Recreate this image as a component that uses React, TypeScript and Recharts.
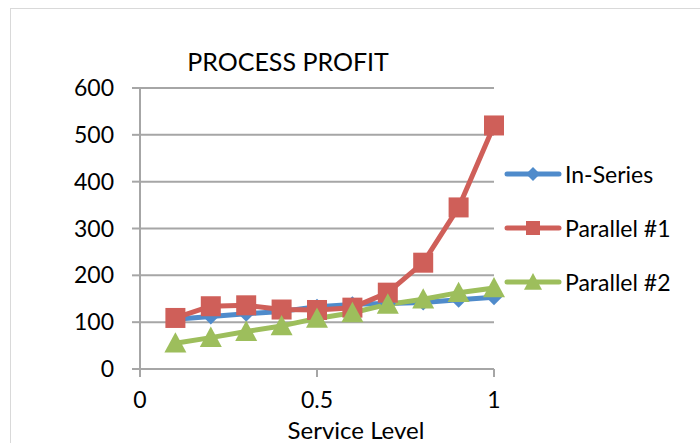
import React from 'react';
import { LineChart, Line, XAxis, YAxis, CartesianGrid } from 'recharts';

const serviceLevels = [0.1, 0.2, 0.3, 0.4, 0.5, 0.6, 0.7, 0.8, 0.9, 1.0];
const inSeries = [106, 112, 118, 123, 133, 138, 140, 142, 148, 153];
const parallel1 = [109, 134, 136, 127, 126, 131, 163, 227, 345, 520];
const parallel2 = [55, 67, 80, 92, 108, 120, 138, 149, 163, 173];
const xTicks = [0, 0.5, 1];
const yTicks = [0, 100, 200, 300, 400, 500, 600];

const data = serviceLevels.map((x, i) => ({
  x,
  inSeries: inSeries[i],
  parallel1: parallel1[i],
  parallel2: parallel2[i],
}));

const BLUE = '#4F8BCB';
const RED = '#CF5F59';
const GREEN = '#9DBE5C';
const GRID = '#A6A6A6';
const FONT = "Lato, 'Open Sans', sans-serif";

const Diamond = ({ cx, cy, r = 8, fill }: any) => (
  <polygon points={`${cx},${cy - r} ${cx + r},${cy} ${cx},${cy + r} ${cx - r},${cy}`} fill={fill} />
);
const Square = ({ cx, cy, r = 10, fill }: any) => (
  <rect x={cx - r} y={cy - r} width={r * 2} height={r * 2} fill={fill} />
);
const Triangle = ({ cx, cy, r = 11, fill }: any) => (
  <polygon points={`${cx},${cy - r} ${cx + r},${cy + r * 0.85} ${cx - r},${cy + r * 0.85}`} fill={fill} />
);

const legendItems = [
  { name: 'In-Series', color: BLUE, Marker: Diamond, r: 7 },
  { name: 'Parallel #1', color: RED, Marker: Square, r: 7 },
  { name: 'Parallel #2', color: GREEN, Marker: Triangle, r: 9 },
];

const App: React.FC = () => {
  return (
    <div style={{ position: 'absolute', left: 0, top: 0, width: 700, height: 443, background: '#fff', overflow: 'hidden' }}>
      <div style={{ position: 'absolute', left: 10, top: 8, width: 720, height: 460, border: '1px solid #D9D9D9' }} />
      <div
        style={{
          position: 'absolute',
          left: 140,
          width: 296,
          top: 46,
          textAlign: 'center',
          fontFamily: FONT,
          fontSize: 25,
          color: '#000',
        }}
      >
        PROCESS PROFIT
      </div>
      <LineChart
        width={700}
        height={443}
        data={data}
        margin={{ top: 88, right: 206, bottom: 0, left: 80 }}
        style={{ position: 'absolute', left: 0, top: 0, fontFamily: FONT }}
      >
        <CartesianGrid vertical={false} stroke={GRID} strokeWidth={2} />
        <XAxis
          dataKey="x"
          type="number"
          domain={[0, 1]}
          ticks={xTicks}
          height={74}
          stroke={GRID}
          strokeWidth={2}
          tickSize={8}
          tickMargin={15}
          tick={{ fill: '#000', fontSize: 23 }}
        />
        <YAxis
          type="number"
          domain={[0, 600]}
          ticks={yTicks}
          width={60}
          stroke={GRID}
          strokeWidth={2}
          tickSize={8}
          tickMargin={18}
          tick={{ fill: '#000', fontSize: 23 }}
        />
        <Line
          dataKey="inSeries"
          name="In-Series"
          stroke={BLUE}
          strokeWidth={5}
          strokeLinejoin="round"
          isAnimationActive={false}
          dot={(p: any) => <Diamond key={`d${p.index}`} cx={p.cx} cy={p.cy} r={8} fill={BLUE} />}
        />
        <Line
          dataKey="parallel1"
          name="Parallel #1"
          stroke={RED}
          strokeWidth={5}
          strokeLinejoin="round"
          isAnimationActive={false}
          dot={(p: any) => <Square key={`s${p.index}`} cx={p.cx} cy={p.cy} r={10} fill={RED} />}
        />
        <Line
          dataKey="parallel2"
          name="Parallel #2"
          stroke={GREEN}
          strokeWidth={5}
          strokeLinejoin="round"
          isAnimationActive={false}
          dot={(p: any) => <Triangle key={`t${p.index}`} cx={p.cx} cy={p.cy} r={11} fill={GREEN} />}
        />
      </LineChart>
      <div style={{ position: 'absolute', left: 504, top: 147, fontFamily: FONT, fontSize: 23, color: '#000' }}>
        {legendItems.map((it) => (
          <div key={it.name} style={{ display: 'flex', alignItems: 'center', height: 54 }}>
            <svg width={58} height={24}>
              <line x1={3} y1={12} x2={55} y2={12} stroke={it.color} strokeWidth={5} strokeLinecap="round" />
              <it.Marker cx={29} cy={12} r={it.r} fill={it.color} />
            </svg>
            <span style={{ marginLeft: 3, whiteSpace: 'nowrap' }}>{it.name}</span>
          </div>
        ))}
      </div>
      <div
        style={{
          position: 'absolute',
          left: 256,
          width: 200,
          top: 418,
          lineHeight: '24px',
          textAlign: 'center',
          fontFamily: FONT,
          fontSize: 24,
          color: '#000',
          whiteSpace: 'nowrap',
        }}
      >
        Service Level
      </div>
    </div>
  );
};

export default App;
